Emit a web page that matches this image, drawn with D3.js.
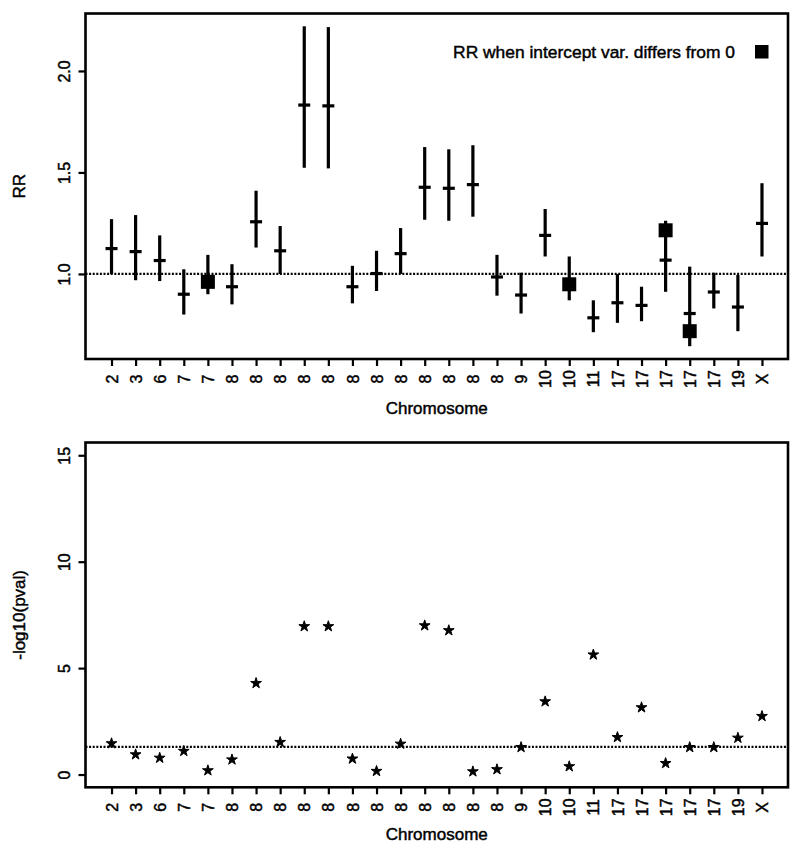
<!DOCTYPE html>
<html>
<head>
<meta charset="utf-8">
<script src="https://cdn.jsdelivr.net/npm/d3@7"></script>
<style>
  html, body { margin: 0; padding: 0; background: #fff; }
  svg { display: block; font-family: "Liberation Sans", Arial, Helvetica, sans-serif; }
  svg text { stroke: #000; stroke-width: 0.45px; fill: #000; }
</style>
</head>
<body>
<svg id="chart" width="800" height="851"></svg>
<script>
// ---- Data ----
const chromosomes = ["2","3","6","7","7","8","8","8","8","8","8","8","8","8","8","8","8","9","10","10","11","17","17","17","17","17","19","X"];
const rrEstimate = [1.125, 1.11, 1.066, 0.90, 0.945, 0.937, 1.257, 1.114, 1.832, 1.828, 0.937, 1.002, 1.10, 1.427, 1.422, 1.44, 0.985, 0.896, 1.19, 0.96, 0.784, 0.858, 0.845, 1.068, 0.805, 0.911, 0.837, 1.249];
const rrLower    = [1.0, 0.969, 0.965, 0.80, 0.90, 0.85, 1.13, 1.0, 1.523, 1.52, 0.855, 0.916, 1.0, 1.267, 1.262, 1.282, 0.893, 0.805, 1.086, 0.87, 0.713, 0.759, 0.767, 0.912, 0.644, 0.83, 0.718, 1.086];
const rrUpper    = [1.27, 1.29, 1.19, 1.023, 1.094, 1.048, 1.41, 1.236, 2.22, 2.216, 1.04, 1.114, 1.226, 1.625, 1.614, 1.634, 1.094, 1.006, 1.32, 1.086, 0.87, 1.0, 0.937, 1.262, 1.036, 1.006, 0.995, 1.447];
const rrInterceptVar = [null, null, null, null, 0.961, null, null, null, null, null, null, null, null, null, null, null, null, null, null, 0.949, null, null, null, 1.215, 0.718, null, null, null];
const negLog10P  = [1.46, 0.94, 0.78, 1.10, 0.19, 0.70, 4.29, 1.52, 6.96, 6.96, 0.74, 0.16, 1.44, 7.0, 6.77, 0.14, 0.24, 1.28, 3.43, 0.38, 5.63, 1.75, 3.15, 0.53, 1.28, 1.28, 1.72, 2.74];
const rrTicks = [1.0, 1.5, 2.0];
const pTicks = [0, 5, 10, 15];
const rrRef = 1.0;
const pRef = -Math.log10(0.05);
const legendLabel = "RR when intercept var. differs from 0";

// ---- Layout ----
const svg = d3.select("#chart");
const left = 85.5, right = 788;
const top1 = 13.5, bottom1 = 359;
const top2 = 442.5, bottom2 = 787.3;
const tickFont = 16, labFont = 17;

function expand(lo, hi) { const r = hi - lo; return [lo - 0.04 * r, hi + 0.04 * r]; }

const idx = d3.range(chromosomes.length);
const x = d3.scaleLinear().domain(expand(0, chromosomes.length - 1)).range([left, right]);
const yRR = d3.scaleLinear().domain(expand(d3.min(rrLower), d3.max(rrUpper))).range([bottom1, top1]);
const yP = d3.scaleLinear().domain(expand(0, 15)).range([bottom2, top2]);

function drawAxes(g, y, yTicks, yFmt, top, bottom, ylab, xlabBaseline) {
  const xa = g.append("g").attr("transform", `translate(0,${bottom})`)
    .call(d3.axisBottom(x).tickValues(idx).tickFormat(i => chromosomes[i]).tickSize(7).tickSizeOuter(0));
  xa.select(".domain").remove();
  xa.selectAll(".tick line").attr("stroke", "#000").attr("stroke-width", 2.2);
  xa.selectAll(".tick text")
    .attr("y", 0).attr("dy", "0.35em").attr("x", 0)
    .attr("transform", "translate(0,20) rotate(-90)")
    .attr("text-anchor", "middle")
    .attr("font-size", tickFont)
    .attr("font-family", "Liberation Sans, Arial, sans-serif");
  const ya = g.append("g").attr("transform", `translate(${left},0)`)
    .call(d3.axisLeft(y).tickValues(yTicks).tickFormat(yFmt).tickSize(7).tickSizeOuter(0));
  ya.select(".domain").remove();
  ya.selectAll(".tick line").attr("stroke", "#000").attr("stroke-width", 2.2);
  ya.selectAll(".tick text")
    .attr("x", 0).attr("dy", 0)
    .attr("transform", "translate(-16,0) rotate(-90)")
    .attr("text-anchor", "middle")
    .attr("font-size", tickFont)
    .attr("font-family", "Liberation Sans, Arial, sans-serif");
  g.append("rect").attr("x", left).attr("y", top).attr("width", right - left).attr("height", bottom - top)
    .attr("fill", "none").attr("stroke", "#000").attr("stroke-width", 2.6);
  g.append("text").attr("x", (left + right) / 2).attr("y", xlabBaseline)
    .attr("text-anchor", "middle").attr("font-size", labFont).text("Chromosome");
  g.append("text").attr("transform", `translate(25,${(top + bottom) / 2}) rotate(-90)`)
    .attr("text-anchor", "middle").attr("font-size", labFont).text(ylab);
}

// ---- Panel 1: RR ----
const g1 = svg.append("g");
g1.append("line").attr("x1", left).attr("x2", right).attr("y1", yRR(rrRef)).attr("y2", yRR(rrRef))
  .attr("stroke", "#000").attr("stroke-width", 2.2).attr("stroke-dasharray", "2,1.6");
g1.selectAll("line.ci").data(idx).join("line").attr("class", "ci")
  .attr("x1", i => x(i)).attr("x2", i => x(i))
  .attr("y1", i => yRR(rrLower[i])).attr("y2", i => yRR(rrUpper[i]))
  .attr("stroke", "#000").attr("stroke-width", 3.2);
g1.selectAll("line.est").data(idx).join("line").attr("class", "est")
  .attr("x1", i => x(i) - 6).attr("x2", i => x(i) + 6)
  .attr("y1", i => yRR(rrEstimate[i])).attr("y2", i => yRR(rrEstimate[i]))
  .attr("stroke", "#000").attr("stroke-width", 3.2);
g1.selectAll("rect.alt").data(idx.filter(i => rrInterceptVar[i] != null)).join("rect").attr("class", "alt")
  .attr("x", i => x(i) - 7).attr("y", i => yRR(rrInterceptVar[i]) - 7)
  .attr("width", 14).attr("height", 14).attr("fill", "#000");
drawAxes(g1, yRR, rrTicks, d3.format(".1f"), top1, bottom1, "RR", 414);
g1.append("text").attr("x", 735).attr("y", 58).attr("text-anchor", "end")
  .attr("font-size", 17.4).text(legendLabel);
g1.append("rect").attr("x", 755).attr("y", 45).attr("width", 13.5).attr("height", 13.5).attr("fill", "#000");

// ---- Panel 2: -log10(p) ----
const g2 = svg.append("g");
g2.append("line").attr("x1", left).attr("x2", right).attr("y1", yP(pRef)).attr("y2", yP(pRef))
  .attr("stroke", "#000").attr("stroke-width", 2.2).attr("stroke-dasharray", "2,1.6");
const star = d3.symbol().type(d3.symbolStar).size(36);
g2.selectAll("path.pt").data(idx).join("path").attr("class", "pt")
  .attr("transform", i => `translate(${x(i)},${yP(negLog10P[i])})`)
  .attr("d", star).attr("fill", "#000").attr("stroke", "#000").attr("stroke-width", 1);
drawAxes(g2, yP, pTicks, d3.format("d"), top2, bottom2, "-log10(pval)", 840);
</script>
</body>
</html>
